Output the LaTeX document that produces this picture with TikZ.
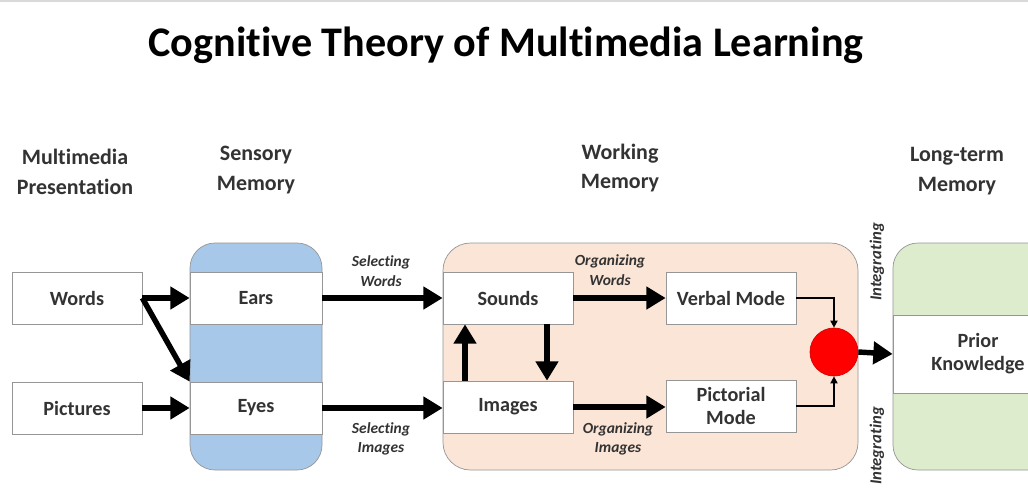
\documentclass[tikz,border=0pt]{standalone}
\usepackage{fontspec}
\setmainfont{Carlito}[Ligatures=NoCommon]
\usetikzlibrary{arrows.meta}
\definecolor{sensblue}{RGB}{168,200,234}
\definecolor{workpeach}{RGB}{251,229,214}
\definecolor{longgreen}{RGB}{220,236,205}
\definecolor{boxline}{RGB}{150,150,150}
\tikzset{
  memhead/.style={font=\fontsize{12.5}{17}\selectfont\bfseries, align=center, text=black!80},
  itembox/.style={draw=boxline, fill=white, minimum width=2.6cm, minimum height=1.04cm,
    font=\fontsize{11.5}{13}\selectfont\bfseries, text=black!80, align=center, inner sep=1pt},
  bandbox/.style={itembox, minimum width=2.64cm},
  steplabel/.style={font=\fontsize{8.8}{11}\selectfont\bfseries\itshape, align=center, text=black!80},
  sidelabel/.style={steplabel, rotate=90, font=\fontsize{9.5}{11}\selectfont\bfseries\itshape},
  bigarrow/.style={line width=3.1pt, -{Triangle[length=11pt, width=12.5pt]}},
  thinarrow/.style={line width=1.2pt, -{Triangle[length=4pt, width=4pt]}},
}
\begin{document}
\begin{tikzpicture}[x=0.02cm, y=-0.02cm]
    \useasboundingbox (0,0) rectangle (1028,491);
    \fill[white] (0,0) rectangle (1028,491);
    \draw[black!15, line width=1pt] (0,1) -- (1028,1);

    % Title
    \node (title) at (506,45) {\fontsize{24}{28}\selectfont\bfseries Cognitive Theory of Multimedia Learning};

    % Column headings
    \node[memhead] (hpres) at (75,172) {Multimedia\\Presentation};
    \node[memhead] (hsens) at (256,170) {Sensory\\Memory};
    \node[memhead] (hwork) at (620,168) {Working\\Memory};
    \node[memhead] (hlong) at (957,171) {Long-term\\Memory};

    % Memory stores
    \draw[boxline, fill=sensblue, rounded corners=0.5cm] (190,243) rectangle (322,470);
    \draw[boxline, fill=workpeach, rounded corners=0.55cm] (443,243) rectangle (858,470);
    \draw[boxline, fill=longgreen, rounded corners=0.5cm] (893,243) rectangle (1080,470);

    % Presentation
    \node[itembox] (words) at (77,298) {Words};
    \node[itembox] (pictures) at (77,408) {Pictures};

    % Sensory memory
    \node[bandbox] (ears) at (256,298) {Ears};
    \node[bandbox] (eyes) at (256,408) {Eyes};

    % Working memory
    \node[itembox] (sounds) at (508,298) {Sounds};
    \node[itembox] (images) at (508,407) {Images};
    \node[itembox] (verbal) at (731,298) {Verbal Mode};
    \node[itembox] (pictorial) at (731,406) {Pictorial\\Mode};
    \node[circle, fill=red, draw=red!85!black, minimum size=0.96cm, inner sep=0pt] (merge) at (834,352) {};

    % Long-term memory
    \node[itembox, minimum width=3.4cm, minimum height=1.56cm] (prior) at (978,354) {Prior\\Knowledge};

    % Arrows
    \draw[bigarrow] (words.east) -- (ears.west);
    \draw[bigarrow] (words.east) -- (eyes.north west);
    \draw[bigarrow] (pictures.east) -- (eyes.west);
    \draw[bigarrow] (ears.east) -- (sounds.west);
    \draw[bigarrow] (eyes.east) -- (eyes.east -| images.west);
    \draw[bigarrow] ([xshift=-0.86cm]images.north) -- ([xshift=-0.86cm]sounds.south);
    \draw[bigarrow] ([xshift=0.78cm]sounds.south) -- ([xshift=0.78cm]images.north);
    \draw[bigarrow] (sounds.east) -- (verbal.west);
    \draw[bigarrow] (images.east) -- (images.east -| pictorial.west);
    \draw[thinarrow] (verbal.east) -| (merge.north);
    \draw[thinarrow] (pictorial.east) -| (merge.south);
    \draw[bigarrow] (merge.east) -- (prior.west);

    % Process labels
    \node[steplabel] (selwords) at (381,271) {Selecting\\Words};
    \node[steplabel] (selimages) at (381,439) {Selecting\\Images};
    \node[steplabel] (orgwords) at (610,270) {Organizing\\Words};
    \node[steplabel] (orgimages) at (618,439) {Organizing\\Images};
    \node[sidelabel] (intup) at (877,262) {Integrating};
    \node[sidelabel] (intdown) at (877,446) {Integrating};
\end{tikzpicture}
\end{document}
